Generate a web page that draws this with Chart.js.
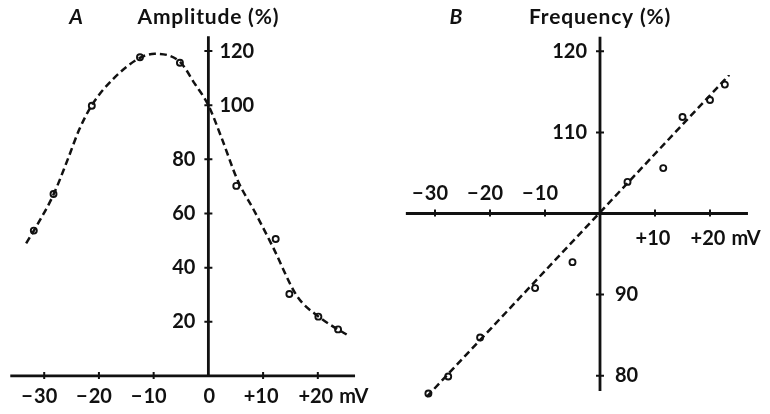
<!DOCTYPE html>
<html>
<head>
<meta charset="utf-8">
<script src="https://cdn.jsdelivr.net/npm/chart.js@4.4.1/dist/chart.umd.min.js"></script>
<style>
  html, body { margin: 0; padding: 0; background: #fff; }
  .panel { position: absolute; top: 0; width: 385px; height: 414px; }
  #panelA { left: 0; }
  #panelB { left: 385px; }
</style>
</head>
<body>
<div class="panel" id="panelA"><canvas id="ampChart" width="385" height="414"></canvas></div>
<div class="panel" id="panelB"><canvas id="freqChart" width="385" height="414"></canvas></div>
<script>
// ---------- Data ----------
// A: amplitude (%) vs membrane potential (mV)
const ampPointsMv  = [-31.9, -28.3, -21.3, -12.5, -5.2, 5.1, 12.3, 14.8, 20.1, 23.7];
const ampPointsPct = [53.7, 67.2, 99.8, 117.7, 115.7, 70.2, 50.6, 30.3, 21.9, 17.2];
// hand-drawn dashed curve
const ampCurveMv  = [-33.3, -31.5, -28.3, -25.7, -23.6, -21.3, -17.5, -12.5, -9.8, -5.2, -2.5, 0, 2.4, 5.4, 8.3, 11.7, 16.2, 20.1, 25.9];
const ampCurvePct = [49, 55, 67, 80, 91, 100, 109.5, 117.5, 119, 116, 108, 100, 88, 72, 61.3, 48, 29.5, 22, 14.5];
const ampYTicks = [20, 40, 60, 80, 100, 120];

// B: frequency (%) vs membrane potential (mV)
const freqPointsMv  = [-31.2, -27.6, -21.8, -11.8, -5.0, 5.0, 11.5, 15.0, 20.0, 22.7];
const freqPointsPct = [77.8, 79.9, 84.7, 90.8, 94.0, 103.9, 105.6, 111.9, 114.0, 115.9];
const freqLineMv  = [-31.5, 23.5];
const freqLinePct = [77.4, 117.1];
const freqYTicks = [80, 90, 110, 120];

const mvTicks  = [-30, -20, -10, 0, 10, 20];
const mvLabels = ['\u2212\u200a30', '\u2212\u200a20', '\u2212\u200a10', '0', '+10', '+20'];
const mvUnit = 'mV';

// ---------- Helpers ----------
const xy = (xs, ys) => xs.map((v, i) => ({x: v, y: ys[i]}));
const FAMILY = 'Lato, "Open Sans", sans-serif';
const TICK_FONT = 'bold 20px ' + FAMILY;
const TITLE_FONT = 'bold 21px ' + FAMILY;

// axes crossing at the origin, ticks + labels drawn against the chart scales
const crossAxes = {
  id: 'crossAxes',
  beforeDatasetsDraw(chart, args, o) {
    const {ctx, scales: {x, y}} = chart;
    const x0 = x.getPixelForValue(0);
    const y0 = y.getPixelForValue(o.yOrigin);
    ctx.save();
    ctx.strokeStyle = '#111';
    ctx.fillStyle = '#111';
    ctx.lineWidth = 2.8;
    ctx.beginPath();
    ctx.moveTo(x.getPixelForValue(o.xSpan[0]), y0);
    ctx.lineTo(x.getPixelForValue(o.xSpan[1]), y0);
    ctx.moveTo(x0, y.getPixelForValue(o.ySpan[0]));
    ctx.lineTo(x0, y.getPixelForValue(o.ySpan[1]));
    ctx.stroke();

    // tick marks
    ctx.lineWidth = 2;
    ctx.beginPath();
    mvTicks.forEach(v => {
      if (v === 0) return;
      const px = x.getPixelForValue(v);
      ctx.moveTo(px, y0 - 4); ctx.lineTo(px, y0 + 3);
    });
    o.yTicks.forEach(v => {
      const py = y.getPixelForValue(v);
      ctx.moveTo(x0 - 4, py); ctx.lineTo(x0 + 4, py);
    });
    ctx.stroke();

    ctx.font = TICK_FONT;
    ctx.textBaseline = 'middle';
    // y labels, on whichever side the curve leaves free
    o.yTicks.forEach(v => {
      const py = y.getPixelForValue(v);
      if (o.yRight(v)) { ctx.textAlign = 'left'; ctx.fillText(String(v), x0 + o.gapRight, py); }
      else { ctx.textAlign = 'right'; ctx.fillText(String(v), x0 - 13, py); }
    });
    // x labels
    ctx.textAlign = 'center';
    mvTicks.forEach((v, i) => {
      if (!o.showZero && v === 0) return;
      const px = x.getPixelForValue(v) + (v < 0 ? -5 : (v > 0 ? -2 : 1));
      const py = y0 + (o.xAbove(v) ? -20 : o.belowGap);
      ctx.fillText(mvLabels[i], px, py);
      if (i === mvTicks.length - 1) {
        const w = ctx.measureText(mvLabels[i]).width;
        ctx.textAlign = 'left';
        ctx.fillText(mvUnit, px + w / 2 + 6, py);
        ctx.textAlign = 'center';
      }
    });

    // panel heading
    ctx.textAlign = 'center';
    ctx.font = TITLE_FONT;
    ctx.letterSpacing = '0.8px';
    ctx.fillText(o.title, x0, 17);
    ctx.letterSpacing = '0px';
    ctx.font = 'italic ' + TITLE_FONT;
    ctx.fillText(o.letter, o.letterX, 17);
    ctx.restore();
  }
};

function makeChart(id, cfg) {
  return new Chart(document.getElementById(id), {
    type: 'scatter',
    data: {
      datasets: [
        {
          data: cfg.line,
          showLine: true,
          borderColor: '#111',
          borderWidth: 2.5,
          borderDash: [7, 4],
          pointRadius: 0,
          cubicInterpolationMode: 'monotone',
          clip: false
        },
        {
          data: cfg.points,
          showLine: false,
          pointRadius: 3,
          pointBorderWidth: 1.9,
          pointBorderColor: '#111',
          pointBackgroundColor: '#fff',
          clip: false
        }
      ]
    },
    options: {
      responsive: false,
      animation: false,
      events: [],
      layout: {padding: cfg.padding},
      plugins: {
        legend: {display: false},
        tooltip: {enabled: false},
        crossAxes: cfg.axes
      },
      scales: {
        x: {type: 'linear', display: false, min: cfg.xRange[0], max: cfg.xRange[1]},
        y: {type: 'linear', display: false, min: cfg.yRange[0], max: cfg.yRange[1]}
      }
    },
    plugins: [crossAxes]
  });
}

makeChart('ampChart', {
  line: xy(ampCurveMv, ampCurvePct),
  points: xy(ampPointsMv, ampPointsPct),
  xRange: [-37, 28],
  yRange: [-5, 130],
  padding: {left: 2.8, right: 23.4, top: 24, bottom: 24.5},
  axes: {
    yOrigin: 0,
    xSpan: [-36.2, 26.8],
    ySpan: [0, 125.5],
    yTicks: ampYTicks,
    yRight: v => v >= 100,
    gapRight: 11,
    xAbove: () => false,
    belowGap: 21,
    showZero: true,
    title: 'Amplitude (%)',
    letter: 'A',
    letterX: 76
  }
});

makeChart('freqChart', {
  line: xy(freqLineMv, freqLinePct),
  points: xy(freqPointsMv, freqPointsPct),
  xRange: [-37, 28],
  yRange: [76, 124],
  padding: {left: 11.5, right: 16, top: 18.9, bottom: 5.9},
  axes: {
    yOrigin: 100,
    xSpan: [-35.3, 26.9],
    ySpan: [78.1, 121.8],
    yTicks: freqYTicks,
    yRight: v => v < 100,
    gapRight: 15,
    xAbove: v => v < 0,
    belowGap: 25,
    showZero: false,
    title: 'Frequency (%)',
    letter: 'B',
    letterX: 71
  }
});
</script>
</body>
</html>
